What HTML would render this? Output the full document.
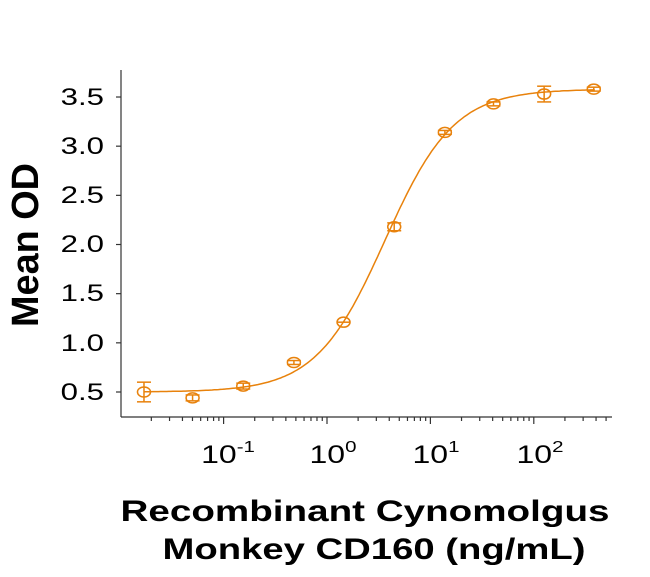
<!DOCTYPE html>
<html><head><meta charset="utf-8"><style>
html,body{margin:0;padding:0;background:#fff;}
svg{display:block;font-family:"Liberation Sans",Arial,sans-serif;}
</style></head><body>
<svg id="s" width="650" height="577" viewBox="0 0 650 577" xmlns="http://www.w3.org/2000/svg">
<g id="ax" stroke="#333" stroke-width="1.2" fill="none">
<line x1="121" y1="70" x2="121" y2="417"/>
<line x1="121" y1="417" x2="612" y2="417"/>
</g>
<g font-size="24" fill="#000" text-anchor="end">
<text transform="translate(104,105) scale(1.3,1)">3.5</text>
<text transform="translate(104,154) scale(1.3,1)">3.0</text>
<text transform="translate(104,203) scale(1.3,1)">2.5</text>
<text transform="translate(104,252) scale(1.3,1)">2.0</text>
<text transform="translate(104,301) scale(1.3,1)">1.5</text>
<text transform="translate(104,351) scale(1.3,1)">1.0</text>
<text transform="translate(104,400) scale(1.3,1)">0.5</text>
</g>
<g font-size="25" fill="#000" text-anchor="middle">
<text transform="translate(228,463) scale(1.28,1)">10<tspan font-size="16" dy="-11">-1</tspan></text>
<text transform="translate(333,463) scale(1.28,1)">10<tspan font-size="16" dy="-11">0</tspan></text>
<text transform="translate(436,463) scale(1.28,1)">10<tspan font-size="16" dy="-11">1</tspan></text>
<text transform="translate(540,463) scale(1.28,1)">10<tspan font-size="16" dy="-11">2</tspan></text>
</g>
<text transform="translate(38,245) rotate(-90)" font-size="38" font-weight="bold" text-anchor="middle" textLength="164" lengthAdjust="spacingAndGlyphs">Mean OD</text>
<text x="365" y="521" font-size="30" font-weight="bold" text-anchor="middle" textLength="489" lengthAdjust="spacingAndGlyphs">Recombinant Cynomolgus</text>
<text x="374" y="559" font-size="30" font-weight="bold" text-anchor="middle" textLength="423" lengthAdjust="spacingAndGlyphs">Monkey CD160 (ng/mL)</text>
<g id="data" stroke="#E8820C" stroke-width="1.5" fill="none"></g>
</svg>
<script>
var ns="http://www.w3.org/2000/svg";
function X(l){return 327+l*103.4;}
function Y(v){return 392-(v-0.5)*98.33;}
function el(p,t,a){var e=document.createElementNS(ns,t);for(var k in a)e.setAttribute(k,a[k]);p.appendChild(e);return e;}
var ax=document.getElementById('ax');
for(var v=0.5;v<=3.51;v+=0.5){el(ax,'line',{x1:116,x2:121,y1:Y(v),y2:Y(v)});}
for(var d=-2;d<=2;d++){for(var m=1;m<=9;m++){var l=d+Math.log10(m);var x=X(l);if(x<121||x>612)continue;el(ax,'line',{x1:x,x2:x,y1:417,y2:m==1?424:421});}}
var g=document.getElementById('data');
var pts="";for(var l=-1.77;l<=2.6;l+=0.02){var v=0.5+3.08/(1+Math.pow(10,(0.56-l)*1.3));pts+=(pts?"L":"M")+X(l).toFixed(1)+","+Y(v).toFixed(1);}
el(g,'path',{d:pts});
var D=[[-1.77,0.5,0.1],[-1.30,0.44,0.03],[-0.81,0.56,0.03],[-0.32,0.80,0.02],[0.16,1.21,0.01],[0.65,2.18,0.04],[1.14,3.14,0.02],[1.61,3.43,0.02],[2.10,3.53,0.08],[2.58,3.58,0.02]];
D.forEach(function(p){var x=X(p[0]),y=Y(p[1]),e=p[2]*98.33;
el(g,'ellipse',{cx:x,cy:y,rx:6.5,ry:5});
if(e>1){el(g,'line',{x1:x,x2:x,y1:y-e,y2:y+e});el(g,'line',{x1:x-7,x2:x+7,y1:y-e,y2:y-e});el(g,'line',{x1:x-7,x2:x+7,y1:y+e,y2:y+e});}
else{el(g,'line',{x1:x-6,x2:x+6,y1:y,y2:y});}
});
</script>
</body></html>
